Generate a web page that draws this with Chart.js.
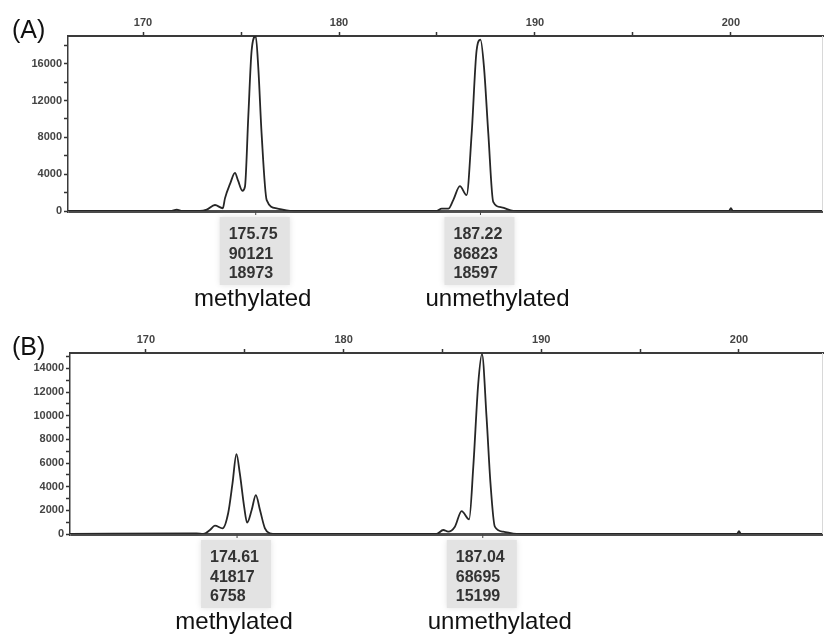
<!DOCTYPE html>
<html>
<head>
<meta charset="utf-8">
<script src="https://cdn.jsdelivr.net/npm/chart.js@4.4.1/dist/chart.umd.min.js"></script>
<style>
  body { margin: 0; background: #fff; }
  canvas { display: block; }
</style>
</head>
<body>
<canvas id="panelA" width="825" height="315"></canvas>
<canvas id="panelB" width="825" height="324"></canvas>
<script>
// size axis (bp), shared by both panels
var xTicks = [170, 175, 180, 185, 190, 195, 200];

// panel A trace (size in bp, signal in RFU)
var sizeA = [166.17, 171.4, 171.72, 172.0, 172.9, 173.25, 173.67, 174.07, 174.18, 174.45, 174.69, 174.85,
    175.07, 175.2, 175.37, 175.54, 175.75, 175.88, 176.05, 176.31, 176.82, 177.5,
    184.98, 185.24, 185.58, 185.83, 186.17, 186.51, 186.77, 187.02, 187.22, 187.4, 187.62, 187.87,
    188.3, 188.9, 199.9, 200.0, 200.1, 204.7];
var rfuA = [0, 0, 150, 0, 0, 150, 650, 300, 1370, 3000, 4140, 3300,
    2200, 2630, 10200, 17400, 18973, 15600, 8400, 1190, 290, 0,
    0, 250, 250, 1190, 2700, 1730, 8400, 17400, 18597, 15600, 8400, 1000,
    400, 0, 0, 300, 0, 0];
var yTicksA = [0, 2000, 4000, 6000, 8000, 10000, 12000, 14000, 16000, 18000];
var yLabelsA = [0, 4000, 8000, 12000, 16000];

// panel B trace
var sizeB = [166.16, 172.56, 172.9, 173.24, 173.49, 173.88, 174.16, 174.38, 174.58, 174.75, 174.97, 175.12,
    175.35, 175.56, 175.77, 176.02, 176.27, 176.6,
    184.7, 185.04, 185.29, 185.63, 185.97, 186.35, 186.56, 186.81, 187.0, 187.23, 187.43, 187.65,
    188.07, 188.75, 199.9, 200.0, 200.1, 204.25];
var rfuB = [0, 60, 0, 340, 700, 480, 1750, 4280, 6758, 5120, 2300, 960,
    2030, 3290, 2030, 480, 60, 0,
    0, 340, 200, 620, 1940, 1240, 5680, 12700, 15199, 9900, 4280, 620,
    200, 0, 0, 250, 0, 0];
var yTicksB = [0, 1000, 2000, 3000, 4000, 5000, 6000, 7000, 8000, 9000, 10000, 11000, 12000, 13000, 14000, 15000];
var yLabelsB = [0, 2000, 4000, 6000, 8000, 10000, 12000, 14000];

// called peaks: size, area, height
var peakNames = ['methylated', 'unmethylated'];
var peakSizeA = [175.75, 187.22];
var peakAreaA = [90121, 86823];
var peakHeightA = [18973, 18597];
var peakSizeB = [174.61, 187.04];
var peakAreaB = [41817, 68695];
var peakHeightB = [6758, 15199];

var tickFont = { family: 'Arial, "Liberation Sans"', size: 11, weight: 'bold' };

function peakLabels(letter, letterY, sizes, areas, heights) {
    return {
        id: 'peakLabels' + letter,
        afterDraw: function(chart) {
            var ctx = chart.ctx;
            var area = chart.chartArea;
            var x = chart.scales.x;
            ctx.save();

            // faint right frame
            ctx.strokeStyle = '#d8d8d8';
            ctx.lineWidth = 1;
            ctx.beginPath();
            ctx.moveTo(area.right - 0.5, area.top);
            ctx.lineTo(area.right - 0.5, area.bottom);
            ctx.stroke();

            ctx.fillStyle = '#111';
            ctx.font = '25px Arial, "Liberation Sans"';
            ctx.textAlign = 'left';
            ctx.textBaseline = 'alphabetic';
            ctx.fillText('(' + letter + ')', 12, letterY);

            for (var i = 0; i < sizes.length; i++) {
                var px = x.getPixelForValue(sizes[i]);
                var left = px - 27;

                ctx.fillStyle = '#e3e3e3';
                ctx.shadowColor = '#e3e3e3';
                ctx.shadowBlur = 6;
                ctx.fillRect(left - 9, area.bottom + 6, 70, 68);
                ctx.shadowBlur = 0;

                ctx.strokeStyle = '#444';
                ctx.lineWidth = 1;
                ctx.beginPath();
                ctx.moveTo(px, area.bottom);
                ctx.lineTo(px, area.bottom + 4);
                ctx.stroke();

                ctx.fillStyle = '#333';
                ctx.font = 'bold 16px Arial, "Liberation Sans"';
                ctx.textAlign = 'left';
                ctx.textBaseline = 'middle';
                ctx.fillText(sizes[i].toFixed(2), left, area.bottom + 24);
                ctx.fillText(String(areas[i]), left, area.bottom + 44);
                ctx.fillText(String(heights[i]), left, area.bottom + 63);

                ctx.fillStyle = '#111';
                ctx.font = '24px Arial, "Liberation Sans"';
                ctx.textAlign = 'center';
                ctx.fillText(peakNames[i], px + (i === 0 ? -3 : 17), area.bottom + 88);
            }
            ctx.restore();
        }
    };
}

function renderPanel(id, sizes, rfu, xMin, xMax, yMax, yTicks, yLabels, axisTop, axisLeft, padBottom, plugin) {
    var points = [];
    for (var i = 0; i < sizes.length; i++) {
        points.push({ x: sizes[i], y: rfu[i] });
    }
    return new Chart(document.getElementById(id), {
        type: 'line',
        data: {
            datasets: [{
                data: points,
                borderColor: '#262626',
                borderWidth: 1.8,
                pointRadius: 0,
                fill: false,
                cubicInterpolationMode: 'monotone'
            }]
        },
        options: {
            responsive: false,
            animation: false,
            layout: { padding: { left: 0, top: 0, right: 2, bottom: padBottom } },
            plugins: { legend: { display: false }, tooltip: { enabled: false } },
            scales: {
                x: {
                    type: 'linear',
                    position: 'top',
                    min: xMin,
                    max: xMax,
                    afterBuildTicks: function(scale) {
                        scale.ticks = xTicks.map(function(v) { return { value: v }; });
                    },
                    afterFit: function(scale) { scale.height = axisTop; },
                    ticks: {
                        autoSkip: false,
                        maxRotation: 0,
                        padding: 2,
                        color: '#444',
                        font: tickFont,
                        callback: function(v) { return v % 10 === 0 ? v : ''; }
                    },
                    grid: { drawOnChartArea: false, tickLength: 4, tickColor: '#333', tickWidth: 1.5 },
                    border: { color: '#3a3a3a', width: 2 }
                },
                y: {
                    min: 0,
                    max: yMax,
                    afterBuildTicks: function(scale) {
                        scale.ticks = yTicks.map(function(v) { return { value: v }; });
                    },
                    afterFit: function(scale) { scale.width = axisLeft; },
                    ticks: {
                        autoSkip: false,
                        padding: 2,
                        color: '#444',
                        font: tickFont,
                        callback: function(v) { return yLabels.indexOf(v) >= 0 ? v : ''; }
                    },
                    grid: {
                        drawOnChartArea: true,
                        tickLength: 4,
                        tickColor: '#333',
                        tickWidth: 1.5,
                        color: function(c) { return c.tick && c.tick.value === 0 ? '#4a4a4a' : 'rgba(0,0,0,0)'; },
                        lineWidth: function(c) { return c.tick && c.tick.value === 0 ? 3 : 1; }
                    },
                    border: { color: '#3a3a3a', width: 1.5 }
                }
            }
        },
        plugins: [plugin]
    });
}

renderPanel('panelA', sizeA, rfuA, 166.17, 204.7, 19000, yTicksA, yLabelsA, 36, 68, 104,
    peakLabels('A', 38, peakSizeA, peakAreaA, peakHeightA));
renderPanel('panelB', sizeB, rfuB, 166.16, 204.25, 15300, yTicksB, yLabelsB, 38, 70, 105,
    peakLabels('B', 40, peakSizeB, peakAreaB, peakHeightB));
</script>
</body>
</html>
